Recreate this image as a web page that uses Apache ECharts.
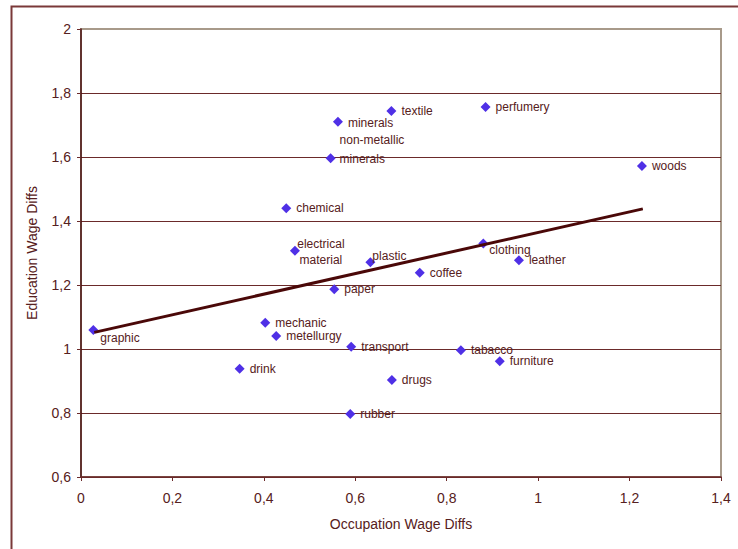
<!DOCTYPE html>
<html>
<head>
<meta charset="utf-8">
<script src="https://cdn.jsdelivr.net/npm/echarts@6/dist/echarts.min.js"></script>
<style>
  html, body { margin: 0; padding: 0; background: #fff; }
  #chart { width: 738px; height: 549px; }
</style>
</head>
<body>
<div id="chart"></div>
<script>
(function() {
  // sectors
  var names = ['graphic', 'drink', 'mechanic', 'metellurgy', 'electrical material', 'chemical',
    'minerals', 'non-metallic minerals', 'textile', 'perfumery', 'woods', 'plastic', 'paper',
    'coffee', 'clothing', 'leather', 'transport', 'tabacco', 'furniture', 'drugs', 'rubber'];
  var occDiffs = [0.027, 0.347, 0.403, 0.427, 0.468, 0.449, 0.562, 0.546, 0.679, 0.885, 1.227,
    0.633, 0.554, 0.741, 0.880, 0.958, 0.591, 0.831, 0.916, 0.680, 0.589];
  var eduDiffs = [1.059, 0.938, 1.082, 1.041, 1.307, 1.440, 1.710, 1.596, 1.744, 1.756, 1.572,
    1.271, 1.187, 1.238, 1.330, 1.277, 1.007, 0.996, 0.962, 0.903, 0.797];

  // trend line end points
  var trendX = [0.029, 1.229];
  var trendY = [1.052, 1.438];

  var ink = '#562020';
  var rule = '#6b2a2a';
  var pale = '#a89a8a';
  var dot = '#4f30e6';
  var font = 'Liberation Sans, Arial, sans-serif';

  // label tweaks per point
  var labelFix = {
    'graphic': { offset: [-3, 8] },
    'minerals': { offset: [0, 1] },
    'non-metallic minerals': { formatter: 'non-metallic\nminerals', lineHeight: 19, offset: [-1, -9] },
    'electrical material': { formatter: 'electrical\nmaterial', position: [31, 6], align: 'center', verticalAlign: 'middle', lineHeight: 16 },
    'plastic': { offset: [-8, -6] },
    'clothing': { offset: [-4, 7] }
  };

  var points = names.map(function(n, i) {
    var item = { name: n, value: [occDiffs[i], eduDiffs[i]] };
    if (labelFix[n]) item.label = labelFix[n];
    return item;
  });

  function comma(v) {
    return String(Math.round(v * 10) / 10).replace('.', ',');
  }

  var splitColors = [rule, rule, rule, rule, rule, rule, rule, pale];

  var chart = echarts.init(document.getElementById('chart'), null, { renderer: 'svg' });
  chart.setOption({
    animation: false,
    textStyle: { fontFamily: font, color: ink },
    graphic: [{
      type: 'rect',
      left: 9, top: 4,
      shape: { width: 760, height: 580 },
      style: { fill: 'none', stroke: '#7a3838', lineWidth: 2 },
      silent: true
    }],
    grid: {
      left: 81, right: 17, top: 29, bottom: 72,
      show: true, borderColor: pale, borderWidth: 2, backgroundColor: '#fff'
    },
    xAxis: {
      type: 'value', min: 0, max: 1.4, interval: 0.2,
      name: 'Occupation Wage Diffs', nameLocation: 'middle', nameGap: 40,
      nameTextStyle: { color: ink, fontSize: 14, fontFamily: font },
      axisLine: { lineStyle: { color: rule, width: 1.5 } },
      axisTick: { show: true, length: 4, lineStyle: { color: rule } },
      axisLabel: { color: ink, fontSize: 14, margin: 14, formatter: comma },
      splitLine: { show: false }
    },
    yAxis: {
      type: 'value', min: 0.6, max: 2, interval: 0.2,
      name: 'Education Wage Diffs', nameLocation: 'middle', nameGap: 42,
      nameTextStyle: { color: ink, fontSize: 14, fontFamily: font },
      axisLine: { show: true, lineStyle: { color: '#4a1010', width: 1.5 } },
      axisTick: { show: true, length: 4, lineStyle: { color: rule } },
      axisLabel: { color: ink, fontSize: 14, margin: 10, formatter: comma },
      splitLine: { show: true, lineStyle: { color: splitColors, width: 1 } }
    },
    series: [
      {
        type: 'line',
        data: trendX.map(function(x, i) { return [x, trendY[i]]; }),
        symbol: 'none',
        lineStyle: { color: '#4a0808', width: 3 },
        silent: true
      },
      {
        type: 'scatter',
        symbol: 'diamond',
        symbolSize: 10,
        itemStyle: { color: dot, opacity: 1 },
        label: {
          show: true, position: 'right', distance: 5,
          formatter: '{b}', color: ink, fontSize: 12, fontFamily: font
        },
        data: points
      }
    ]
  });
})();
</script>
</body>
</html>
